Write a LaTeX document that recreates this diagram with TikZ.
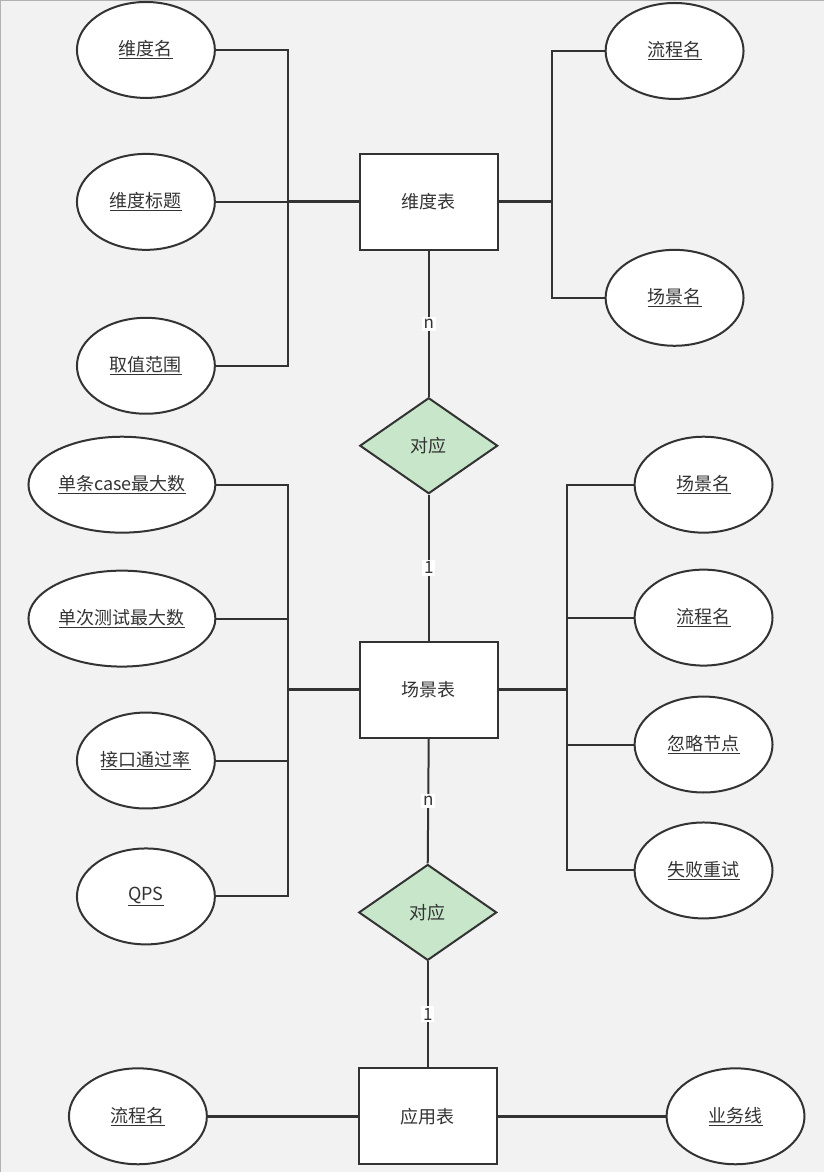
\documentclass[tikz,border=0pt]{standalone}
\usepackage{fontspec}
\setmainfont{Noto Sans CJK SC}
\usetikzlibrary{shapes.geometric}
\definecolor{bg}{HTML}{F2F2F2}
\definecolor{ln}{HTML}{333333}
\definecolor{relfill}{HTML}{C8E6C9}
\begin{document}
\begin{tikzpicture}[x=1pt,y=-1pt,
  attr/.style={ellipse, draw=ln, line width=2pt, fill=white, minimum width=138pt, minimum height=96pt, inner sep=0pt, font=\fontsize{18}{21}\selectfont, text=ln},
  wideattr/.style={attr, minimum width=187pt},
  ent/.style={rectangle, draw=ln, line width=2pt, fill=white, minimum width=138pt, minimum height=96pt, inner sep=0pt, font=\fontsize{18}{21}\selectfont, text=ln},
  rel/.style={diamond, draw=ln, line width=2pt, fill=relfill, minimum width=138pt, minimum height=96pt, inner sep=0pt, font=\fontsize{18}{21}\selectfont, text=ln},
  lbl/.style={fill=white, inner sep=2pt, font=\fontsize{17}{19}\selectfont, text=ln},
  conn/.style={draw=ln, line width=2pt},
  mainconn/.style={draw=ln, line width=3pt}
]
\fill[bg] (0,0) rectangle (825,1173);
\draw[black!30, line width=1.5pt] (0.75,1173) -- (0.75,0.75) -- (825,0.75);
\useasboundingbox (0,0) rectangle (825,1173);

% top group
\node[attr] (a1) at (146,50) {\underline{维度名}};
\node[attr] (a2) at (146,202) {\underline{维度标题}};
\node[attr] (a3) at (146,366) {\underline{取值范围}};
\node[ent]  (r1) at (429,202) {维度表};
\node[attr] (a4) at (675,51) {\underline{流程名}};
\node[attr] (a5) at (675,298) {\underline{场景名}};
\node[rel]  (d1) at (429,446) {对应};

% middle group
\node[ent] (r2) at (429,690) {场景表};
\node[wideattr] (b1) at (122,485) {\underline{单条case最大数}};
\node[wideattr] (b2) at (122,619) {\underline{单次测试最大数}};
\node[attr] (b3) at (146,761) {\underline{接口通过率}};
\node[attr] (b4) at (146,897) {\underline{QPS}};
\node[attr] (c1) at (704,485) {\underline{场景名}};
\node[attr] (c2) at (704,618) {\underline{流程名}};
\node[attr] (c3) at (704,745) {\underline{忽略节点}};
\node[attr] (c4) at (704,871) {\underline{失败重试}};
\node[rel]  (d2) at (428,913) {对应};

% bottom group
\node[ent]  (r3) at (428,1117) {应用表};
\node[attr] (f1) at (138,1117) {\underline{流程名}};
\node[attr] (f2) at (736,1117) {\underline{业务线}};

% bus junctions
\coordinate (j1) at (288,202);
\coordinate (j2) at (552,202);
\coordinate (j3) at (288,690);
\coordinate (j4) at (567,690);

% connectors top
\draw[conn] (a1.east) -| (j1);
\draw[conn] (a3.east) -| (j1);
\draw[conn] (a2.east) -- (j1);
\draw[mainconn] (j1) -- (r1.west);
\draw[conn] (a4.west) -| (j2);
\draw[conn] (a5.west) -| (j2);
\draw[mainconn] (r1.east) -- (j2);
\draw[conn] (r1.south) -- node[lbl] {n} (d1.north);
\draw[conn] (d1.south) -- node[lbl] {1} (r2.north);

% connectors middle
\draw[conn] (b1.east) -| (j3);
\draw[conn] (b2.east) -| (j3);
\draw[conn] (b3.east) -| (j3);
\draw[conn] (b4.east) -| (j3);
\draw[mainconn] (j3) -- (r2.west);
\draw[conn] (c1.west) -| (j4);
\draw[conn] (c2.west) -| (j4);
\draw[conn] (c3.west) -| (j4);
\draw[conn] (c4.west) -| (j4);
\draw[mainconn] (r2.east) -- (j4);
\draw[conn] (r2.south) -- node[lbl] {n} (d2.north);
\draw[conn] (d2.south) -- node[lbl] {1} (r3.north);

% connectors bottom
\draw[mainconn] (f1.east) -- (r3.west);
\draw[mainconn] (r3.east) -- (f2.west);
\end{tikzpicture}
\end{document}
